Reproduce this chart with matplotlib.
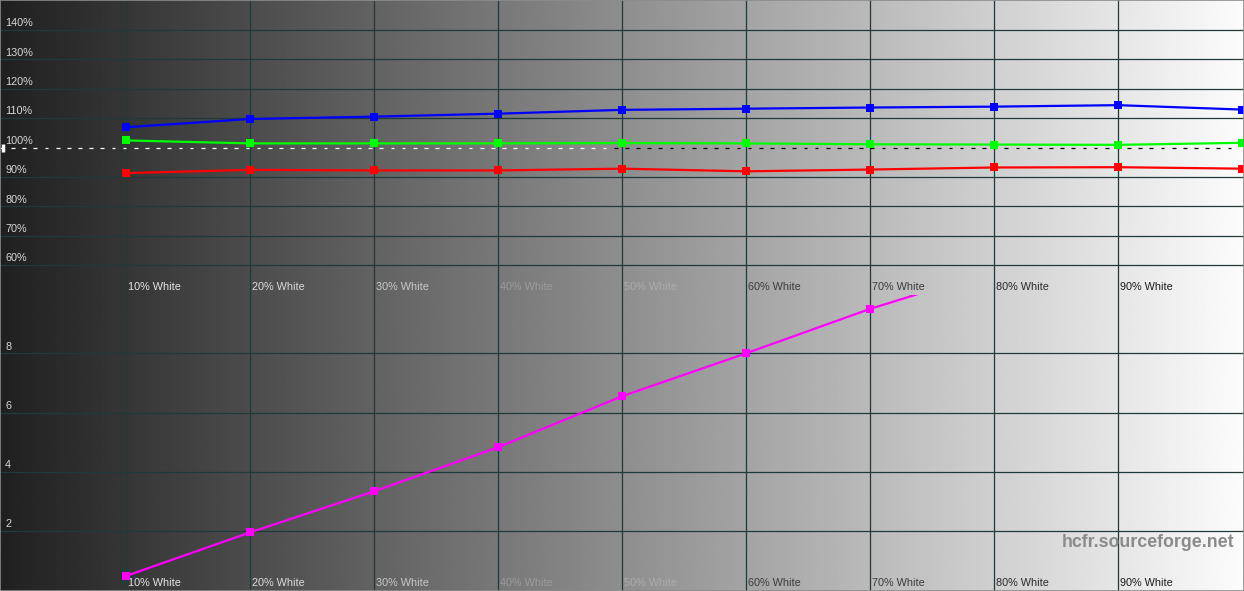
import numpy as np
import matplotlib.pyplot as plt
from matplotlib.collections import LineCollection

# grey levels measured (percent of white)
levels = [10, 20, 30, 40, 50, 60, 70, 80, 90, 100]
level_labels = ["10% White", "20% White", "30% White", "40% White", "50% White",
                "60% White", "70% White", "80% White", "90% White"]

# RGB levels (%)
red = [91.3, 92.4, 92.2, 92.2, 92.8, 91.9, 92.5, 93.2, 93.3, 92.8]
green = [102.4, 101.4, 101.4, 101.4, 101.5, 101.4, 101.1, 101.0, 100.9, 101.6]
blue = [106.9, 109.7, 110.5, 111.5, 112.8, 113.2, 113.6, 113.9, 114.4, 112.9]

# delta E (line leaves the chart after 70%)
delta_e = [0.48, 1.95, 3.34, 4.83, 6.55, 8.0, 9.5, 10.8]

pct_ticks = [60, 70, 80, 90, 100, 110, 120, 130, 140]
de_ticks = [2, 4, 6, 8]
ref_level = 100

# label colour follows the background under it
label_colors = ["#e6e6e6", "#dcdcdc", "#c8c8c8", "#9c9c9c", "#acacac",
                "#3c3c3c", "#3c3c3c", "#2a2a2a", "#1a1a1a"]

W, H = 1244, 591
fig = plt.figure(figsize=(W / 100, H / 100), dpi=100)
plt.rcParams['font.family'] = ['Liberation Sans', 'DejaVu Sans']

# grey gradient background
bg = fig.add_axes([0, 0, 1, 1], zorder=0)
grad = np.linspace(32 / 255, 252 / 255, 600)
bg.imshow(np.tile(grad, (2, 1)), cmap='gray', vmin=0, vmax=1, aspect='auto',
          extent=[0, 1, 0, 1], interpolation='bilinear')
bg.set_xlim(0, 1)
bg.set_ylim(0, 1)
bg.axis('off')

grid_c = '#1e3a3a'
xlim = (-2 / 12.4, (W - 2) / 12.4)
split = 296 / H

top = fig.add_axes([0, split, 1, 1 - split], zorder=2)
bot = fig.add_axes([0, 0, 1, split], zorder=2)
for ax in (top, bot):
    ax.set_facecolor('none')
    ax.set_xlim(*xlim)
    for s in ax.spines.values():
        s.set_visible(False)
    ax.set_xticks([])
    ax.set_yticks([])
    for lv in levels[:-1]:
        ax.axvline(lv, color=grid_c, lw=0.9, zorder=1)

top.set_ylim(100 - 148 / 2.95, 100 + 148 / 2.95)
bot.set_ylim(-0.03, 9.97)

fs = 7.8
# top panel: percent grid + labels
for t in pct_ticks:
    if t != ref_level:
        top.axhline(t, color=grid_c, lw=0.9, zorder=1)
    top.text(0.25, t + 0.6, f"{t}%", color='#d8d8d8', fontsize=fs,
             ha='left', va='bottom')

# reference line at 100%, dashes inverted against the background
xs = np.arange(xlim[0], xlim[1], 0.45)
segs, cols = [], []
for i, x0 in enumerate(xs[:-1]):
    if i % 2 == 0:
        segs.append([(x0, ref_level), (x0 + 0.3, ref_level)])
        v = 32 / 255 + (252 - 32) / 255 * (x0 - xlim[0]) / (xlim[1] - xlim[0])
        cols.append('white' if v < 0.55 else 'black')
top.add_collection(LineCollection(segs, colors=cols, linewidths=0.9, zorder=2))
top.plot([0.05], [ref_level], marker='|', ms=6, mew=2.5, color='white',
         clip_on=False, zorder=5)

for vals, c in ((red, '#ff0000'), (green, '#00ff00'), (blue, '#0000ff')):
    top.plot(levels, vals, color=c, lw=1.6, marker='s', ms=6.3, mew=0, zorder=4)

# bottom panel: delta E
for t in de_ticks:
    bot.axhline(t, color=grid_c, lw=0.9, zorder=1)
    bot.text(0.25, t + 0.06, str(t), color='#d8d8d8', fontsize=fs,
             ha='left', va='bottom')

bot.plot(levels[:len(delta_e)], delta_e, color='#ff00ff', lw=1.6, marker='s',
         ms=6.3, mew=0, zorder=4)

for lv, lab, c in zip(levels, level_labels, label_colors):
    top.text(lv + 0.16, 52.5, lab, color=c, fontsize=fs, ha='left', va='center')
    bot.text(lv + 0.16, 0.24, lab, color=c, fontsize=fs, ha='left', va='center')

bot.text(99.4, 1.6, "hcfr.sourceforge.net", color='#8a8a8a', fontsize=12.8,
         fontweight='bold', ha='right', va='center')

# thin frame
frame = plt.Rectangle((0, 0), 1, 1, transform=fig.transFigure, fill=False,
                      edgecolor='#8c8c8c', lw=1.2, zorder=10)
fig.patches.append(frame)

fig.savefig('out.png', dpi=100)
